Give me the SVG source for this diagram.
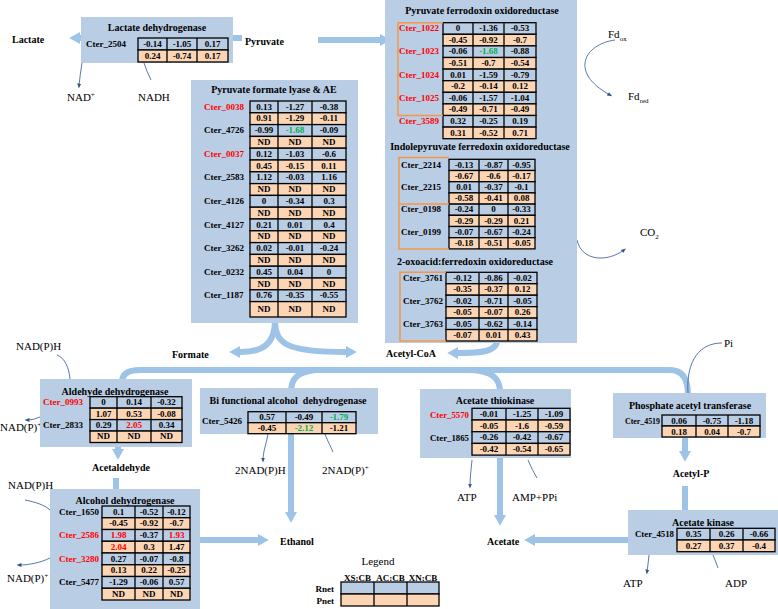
<svg xmlns="http://www.w3.org/2000/svg" width="778" height="609" viewBox="0 0 778 609">
<style>
.pn{fill:#b9cde5}
.cb{fill:#b9cde5;stroke:#000;stroke-width:1.3}
.cp{fill:#fcd5b5;stroke:#000;stroke-width:1.3}
.dv{fill:none;stroke:#000;stroke-width:1.3}
.br{fill:none;stroke:#f79646;stroke-width:1.5}
text{font-family:"Liberation Serif","Times New Roman",serif;fill:#000}
.v{font-weight:bold;font-size:9px;text-anchor:middle}
.g{font-weight:bold;font-size:9px}
.r{fill:#ff0000}
.gr{fill:#00b050}
.t{font-weight:bold;font-size:10px;text-anchor:middle}
.m{font-weight:bold;font-size:10px}
.s{font-size:11px}
.tk{fill:none;stroke:#9dc3e6;stroke-width:6}
.tn{fill:none;stroke:#2f5597;stroke-width:0.8}
</style>
<defs>
<marker id="ah" viewBox="0 0 10 10" refX="0" refY="5" markerWidth="2" markerHeight="2" orient="auto"><path d="M0,0 L9,5 L0,10 z" fill="#9dc3e6"/></marker>
<marker id="th" viewBox="0 0 10 10" refX="5" refY="5" markerWidth="5" markerHeight="5" markerUnits="userSpaceOnUse" orient="auto"><path d="M0,1 L10,5 L0,9 z" fill="#2f5597"/></marker>
</defs>

<g id="connectors">
<path class="tk" d="M242,38H80" marker-end="url(#ah)"/>
<path class="tk" d="M318,40H380" marker-end="url(#ah)"/>
<path class="tk" d="M275,320C275,345 262,352 240,352" marker-end="url(#ah)"/>
<path class="tk" d="M275,320C275,345 288,352 346,352" marker-end="url(#ah)"/>
<path class="tk" d="M497,340C497,352 480,353 458,353" marker-end="url(#ah)"/>
<path class="tk" d="M122,382Q122,370 140,370H670Q688,370 688,395"/>
<path class="tk" d="M315,370C298,372 291,378 291,392V512" marker-end="url(#ah)"/>
<path class="tk" d="M470,370C492,371 500,378 500,392V515" marker-end="url(#ah)"/>
<path class="tk" d="M200,540H258" marker-end="url(#ah)"/>
<path class="tk" d="M118,445V449" marker-end="url(#ah)"/>
<path class="tk" d="M116,478V492"/>
<path class="tk" d="M685,436V451" marker-end="url(#ah)"/>
<path class="tk" d="M685,486V512"/>
<path class="tk" d="M630,540H535" marker-end="url(#ah)"/>
<path class="tn" d="M82,63Q80,75 79,86" marker-end="url(#th)"/>
<path class="tn" d="M144,63Q147,72 151,80"/>
<path class="tn" d="M615,40C585,44 568,72 610,95" marker-end="url(#th)"/>
<path class="tn" d="M577,240C582,262 608,262 624,250" marker-end="url(#th)"/>
<path class="tn" d="M57,355C65,358 69,368 70,379"/>
<path class="tn" d="M40,417Q34,420 27,420" marker-end="url(#th)"/>
<path class="tn" d="M268,434C266,445 263,452 263,460" marker-end="url(#th)"/>
<path class="tn" d="M325,434C328,442 331,447 333,452"/>
<path class="tn" d="M472,460C471,470 470,478 470,486" marker-end="url(#th)"/>
<path class="tn" d="M528,460Q532,470 537,478"/>
<path class="tn" d="M25,500C35,502 45,505 50,510"/>
<path class="tn" d="M50,558C40,563 28,565 19,565" marker-end="url(#th)"/>
<path class="tn" d="M722,343C700,343 686,360 688,393"/>
<path class="tn" d="M649,555Q648,565 647,572" marker-end="url(#th)"/>
<path class="tn" d="M713,555Q716,562 718,568"/>
</g>

<g id="metabolites">
<text class="m" x="12" y="43">Lactate</text>
<text class="m" x="245" y="45">Pyruvate</text>
<text class="m" x="172" y="357.5">Formate</text>
<text class="m" x="386" y="357">Acetyl-CoA</text>
<text class="m" x="121" y="470.5" text-anchor="middle">Acetaldehyde</text>
<text class="m" x="280" y="544.5">Ethanol</text>
<text class="m" x="487" y="544.5">Acetate</text>
<text class="m" x="691" y="476.5" text-anchor="middle">Acetyl-P</text>
<text class="s" x="67" y="100.5">NAD<tspan font-size="7" dy="-4">+</tspan></text>
<text class="s" x="138" y="100.5">NADH</text>
<text class="s" x="608" y="38">Fd<tspan font-size="7" dy="3">ox</tspan></text>
<text class="s" x="628" y="100">Fd<tspan font-size="7" dy="3">red</tspan></text>
<text class="s" x="640" y="236">CO<tspan font-size="7" dy="3">2</tspan></text>
<text class="s" x="16" y="349.5">NAD(P)H</text>
<text class="s" x="0" y="431">NAD(P)<tspan font-size="7" dy="-4">+</tspan></text>
<text class="s" x="235" y="474">2NAD(P)H</text>
<text class="s" x="322" y="474">2NAD(P)<tspan font-size="7" dy="-4">+</tspan></text>
<text class="s" x="457" y="501">ATP</text>
<text class="s" x="512" y="501">AMP+PPi</text>
<text class="s" x="8" y="489">NAD(P)H</text>
<text class="s" x="7" y="582">NAD(P)<tspan font-size="7" dy="-4">+</tspan></text>
<text class="s" x="724" y="347">Pi</text>
<text class="s" x="623" y="587">ATP</text>
<text class="s" x="725" y="587">ADP</text>
</g>

<g id="ldh">
<rect class="pn" x="81" y="17" width="152" height="46"/>
<text class="t" x="157" y="31">Lactate dehydrogenase</text>
<text class="g" x="86" y="47">Cter_2504</text>
<rect class="cb" x="138" y="38" width="90" height="12"/>
<rect class="cp" x="138" y="50" width="90" height="12"/>
<path class="dv" d="M167,38V62M197,38V62"/>
<text class="v" y="47.2"><tspan x="152.5">-0.14</tspan><tspan x="182">-1.05</tspan><tspan x="212.5">0.17</tspan></text>
<text class="v" y="59.2"><tspan x="152.5">0.24</tspan><tspan x="182">-0.74</tspan><tspan x="212.5">0.17</tspan></text>
</g>

<g id="pfl">
<rect class="pn" x="191" y="80" width="167" height="243"/>
<text class="t" x="274" y="93">Pyruvate formate lyase &amp; AE</text>
<rect class="cb" x="250" y="101" width="96" height="11.8"/>
<rect class="cp" x="250" y="112.8" width="96" height="11.8"/>
<rect class="cb" x="250" y="124.6" width="96" height="11.8"/>
<rect class="cp" x="250" y="136.4" width="96" height="11.8"/>
<rect class="cb" x="250" y="148.2" width="96" height="11.8"/>
<rect class="cp" x="250" y="160" width="96" height="11.8"/>
<rect class="cb" x="250" y="171.8" width="96" height="11.8"/>
<rect class="cp" x="250" y="183.6" width="96" height="11.8"/>
<rect class="cb" x="250" y="195.4" width="96" height="11.8"/>
<rect class="cp" x="250" y="207.2" width="96" height="11.8"/>
<rect class="cb" x="250" y="219" width="96" height="11.8"/>
<rect class="cp" x="250" y="230.8" width="96" height="11.8"/>
<rect class="cb" x="250" y="242.6" width="96" height="11.8"/>
<rect class="cp" x="250" y="254.4" width="96" height="11.8"/>
<rect class="cb" x="250" y="266.2" width="96" height="11.8"/>
<rect class="cp" x="250" y="278" width="96" height="11.8"/>
<rect class="cb" x="250" y="289.8" width="96" height="11.8"/>
<rect class="cp" x="250" y="301.6" width="96" height="15.4"/>
<path class="dv" d="M278,101V317M312,101V317"/>
<text class="g r" x="204" y="109.6">Cter_0038</text>
<text class="g" x="204" y="133.2">Cter_4726</text>
<text class="g r" x="204" y="156.8">Cter_0037</text>
<text class="g" x="204" y="180.4">Cter_2583</text>
<text class="g" x="204" y="204">Cter_4126</text>
<text class="g" x="204" y="227.6">Cter_4127</text>
<text class="g" x="204" y="251.2">Cter_3262</text>
<text class="g" x="204" y="274.8">Cter_0232</text>
<text class="g" x="204" y="298.4">Cter_1187</text>
<text class="v" y="109.6"><tspan x="264">0.13</tspan><tspan x="295">-1.27</tspan><tspan x="329">-0.38</tspan></text>
<text class="v" y="121.4"><tspan x="264">0.91</tspan><tspan x="295">-1.29</tspan><tspan x="329">-0.11</tspan></text>
<text class="v" y="133.2"><tspan x="264">-0.99</tspan><tspan x="295" class="gr">-1.68</tspan><tspan x="329">-0.09</tspan></text>
<text class="v" y="145"><tspan x="264">ND</tspan><tspan x="295">ND</tspan><tspan x="329">ND</tspan></text>
<text class="v" y="156.8"><tspan x="264">0.12</tspan><tspan x="295">-1.03</tspan><tspan x="329">-0.6</tspan></text>
<text class="v" y="168.6"><tspan x="264">0.45</tspan><tspan x="295">-0.15</tspan><tspan x="329">0.11</tspan></text>
<text class="v" y="180.4"><tspan x="264">1.12</tspan><tspan x="295">-0.03</tspan><tspan x="329">1.16</tspan></text>
<text class="v" y="192.2"><tspan x="264">ND</tspan><tspan x="295">ND</tspan><tspan x="329">ND</tspan></text>
<text class="v" y="204"><tspan x="264">0</tspan><tspan x="295">-0.34</tspan><tspan x="329">0.3</tspan></text>
<text class="v" y="215.8"><tspan x="264">ND</tspan><tspan x="295">ND</tspan><tspan x="329">ND</tspan></text>
<text class="v" y="227.6"><tspan x="264">0.21</tspan><tspan x="295">0.01</tspan><tspan x="329">0.4</tspan></text>
<text class="v" y="239.4"><tspan x="264">ND</tspan><tspan x="295">ND</tspan><tspan x="329">ND</tspan></text>
<text class="v" y="251.2"><tspan x="264">0.02</tspan><tspan x="295">-0.01</tspan><tspan x="329">-0.24</tspan></text>
<text class="v" y="263"><tspan x="264">ND</tspan><tspan x="295">ND</tspan><tspan x="329">ND</tspan></text>
<text class="v" y="274.8"><tspan x="264">0.45</tspan><tspan x="295">0.04</tspan><tspan x="329">0</tspan></text>
<text class="v" y="286.6"><tspan x="264">ND</tspan><tspan x="295">ND</tspan><tspan x="329">ND</tspan></text>
<text class="v" y="298.4"><tspan x="264">0.76</tspan><tspan x="295">-0.35</tspan><tspan x="329">-0.55</tspan></text>
<text class="v" y="312.3"><tspan x="264">ND</tspan><tspan x="295">ND</tspan><tspan x="329">ND</tspan></text>
</g>

<g id="pfor">
<rect class="pn" x="385" y="0" width="192" height="343"/>
<text class="t" x="482" y="14">Pyruvate ferrodoxin oxidoreductase</text>
<rect class="cb" x="443" y="22.7" width="93" height="11.6"/>
<rect class="cp" x="443" y="34.3" width="93" height="11.6"/>
<rect class="cb" x="443" y="45.9" width="93" height="11.6"/>
<rect class="cp" x="443" y="57.5" width="93" height="11.6"/>
<rect class="cb" x="443" y="69.1" width="93" height="11.6"/>
<rect class="cp" x="443" y="80.7" width="93" height="11.6"/>
<rect class="cb" x="443" y="92.3" width="93" height="11.6"/>
<rect class="cp" x="443" y="103.9" width="93" height="11.6"/>
<rect class="cb" x="443" y="115.5" width="93" height="11.6"/>
<rect class="cp" x="443" y="127.1" width="93" height="11.6"/>
<path class="dv" d="M473,22.7V138.7M504,22.7V138.7"/>
<path class="br" d="M443,22.7H398V115.5H443"/>
<text class="g r" x="399" y="31.2">Cter_1022</text>
<text class="g r" x="399" y="54.4">Cter_1023</text>
<text class="g r" x="399" y="77.6">Cter_1024</text>
<text class="g r" x="399" y="100.8">Cter_1025</text>
<text class="g r" x="399" y="124">Cter_3589</text>
<text class="v" y="31.2"><tspan x="458">0</tspan><tspan x="488.5">-1.36</tspan><tspan x="520">-0.53</tspan></text>
<text class="v" y="42.8"><tspan x="458">-0.45</tspan><tspan x="488.5">-0.92</tspan><tspan x="520">-0.7</tspan></text>
<text class="v" y="54.4"><tspan x="458">-0.06</tspan><tspan x="488.5" class="gr">-1.68</tspan><tspan x="520">-0.88</tspan></text>
<text class="v" y="66"><tspan x="458">-0.51</tspan><tspan x="488.5">-0.7</tspan><tspan x="520">-0.54</tspan></text>
<text class="v" y="77.6"><tspan x="458">0.01</tspan><tspan x="488.5">-1.59</tspan><tspan x="520">-0.79</tspan></text>
<text class="v" y="89.2"><tspan x="458">-0.2</tspan><tspan x="488.5">-0.14</tspan><tspan x="520">0.12</tspan></text>
<text class="v" y="100.8"><tspan x="458">-0.06</tspan><tspan x="488.5">-1.57</tspan><tspan x="520">-1.04</tspan></text>
<text class="v" y="112.4"><tspan x="458">-0.49</tspan><tspan x="488.5">-0.71</tspan><tspan x="520">-0.49</tspan></text>
<text class="v" y="124"><tspan x="458">0.32</tspan><tspan x="488.5">-0.25</tspan><tspan x="520">0.19</tspan></text>
<text class="v" y="135.6"><tspan x="458">0.31</tspan><tspan x="488.5">-0.52</tspan><tspan x="520">0.71</tspan></text>

<text class="t" x="480" y="150">Indolepyruvate ferredoxin oxidoreductase</text>
<rect class="cb" x="449" y="159.3" width="86" height="11.2"/>
<rect class="cp" x="449" y="170.5" width="86" height="11.2"/>
<rect class="cb" x="449" y="181.7" width="86" height="11.2"/>
<rect class="cp" x="449" y="192.9" width="86" height="11.2"/>
<rect class="cb" x="449" y="204.1" width="86" height="11.2"/>
<rect class="cp" x="449" y="215.3" width="86" height="11.2"/>
<rect class="cb" x="449" y="226.5" width="86" height="11.2"/>
<rect class="cp" x="449" y="237.7" width="86" height="11.2"/>
<path class="dv" d="M479,159.3V248.9M508,159.3V248.9"/>
<path class="br" d="M449,157.5H399V249H449M399,204H449"/>
<text class="g" x="401" y="167.6">Cter_2214</text>
<text class="g" x="401" y="190">Cter_2215</text>
<text class="g" x="401" y="212.4">Cter_0198</text>
<text class="g" x="401" y="234.8">Cter_0199</text>
<text class="v" y="167.6"><tspan x="464">-0.13</tspan><tspan x="493.5">-0.87</tspan><tspan x="521.5">-0.95</tspan></text>
<text class="v" y="178.8"><tspan x="464">-0.67</tspan><tspan x="493.5">-0.6</tspan><tspan x="521.5">-0.17</tspan></text>
<text class="v" y="190"><tspan x="464">0.01</tspan><tspan x="493.5">-0.37</tspan><tspan x="521.5">-0.1</tspan></text>
<text class="v" y="201.2"><tspan x="464">-0.58</tspan><tspan x="493.5">-0.41</tspan><tspan x="521.5">0.08</tspan></text>
<text class="v" y="212.4"><tspan x="464">-0.24</tspan><tspan x="493.5">0</tspan><tspan x="521.5">-0.33</tspan></text>
<text class="v" y="223.6"><tspan x="464">-0.29</tspan><tspan x="493.5">-0.29</tspan><tspan x="521.5">0.21</tspan></text>
<text class="v" y="234.8"><tspan x="464">-0.07</tspan><tspan x="493.5">-0.67</tspan><tspan x="521.5">-0.24</tspan></text>
<text class="v" y="246"><tspan x="464">-0.18</tspan><tspan x="493.5">-0.51</tspan><tspan x="521.5">-0.05</tspan></text>

<text class="t" x="475" y="265">2-oxoacid:ferredoxin oxidoreductase</text>
<rect class="cb" x="446" y="272.3" width="91" height="11.45"/>
<rect class="cp" x="446" y="283.75" width="91" height="11.45"/>
<rect class="cb" x="446" y="295.2" width="91" height="11.45"/>
<rect class="cp" x="446" y="306.65" width="91" height="11.45"/>
<rect class="cb" x="446" y="318.1" width="91" height="11.45"/>
<rect class="cp" x="446" y="329.55" width="91" height="11.45"/>
<path class="dv" d="M479,272.3V341M508,272.3V341"/>
<path class="br" d="M446,272.3H400V341H446"/>
<text class="g" x="403" y="280.7">Cter_3761</text>
<text class="g" x="403" y="303.6">Cter_3762</text>
<text class="g" x="403" y="326.5">Cter_3763</text>
<text class="v" y="280.7"><tspan x="462.5">-0.12</tspan><tspan x="493.5">-0.86</tspan><tspan x="522.5">-0.02</tspan></text>
<text class="v" y="292.15"><tspan x="462.5">-0.35</tspan><tspan x="493.5">-0.37</tspan><tspan x="522.5">0.12</tspan></text>
<text class="v" y="303.6"><tspan x="462.5">-0.02</tspan><tspan x="493.5">-0.71</tspan><tspan x="522.5">-0.05</tspan></text>
<text class="v" y="315.05"><tspan x="462.5">-0.05</tspan><tspan x="493.5">-0.07</tspan><tspan x="522.5">0.26</tspan></text>
<text class="v" y="326.5"><tspan x="462.5">-0.05</tspan><tspan x="493.5">-0.62</tspan><tspan x="522.5">-0.14</tspan></text>
<text class="v" y="337.95"><tspan x="462.5">-0.07</tspan><tspan x="493.5">0.01</tspan><tspan x="522.5">0.43</tspan></text>
</g>

<g id="aldh">
<rect class="pn" x="40" y="379" width="152" height="68"/>
<text class="t" x="115" y="394.5">Aldehyde dehydrogenase</text>
<rect class="cb" x="90" y="396.7" width="92" height="11.45"/>
<rect class="cp" x="90" y="408.15" width="92" height="11.45"/>
<rect class="cb" x="90" y="419.6" width="92" height="11.45"/>
<rect class="cp" x="90" y="431.05" width="92" height="11.45"/>
<path class="dv" d="M117,396.7V442.5M151,396.7V442.5"/>
<text class="g r" x="43" y="405.1">Cter_0993</text>
<text class="g" x="43" y="428">Cter_2833</text>
<text class="v" y="405.1"><tspan x="103.5">0</tspan><tspan x="134">0.14</tspan><tspan x="166.5">-0.32</tspan></text>
<text class="v" y="416.55"><tspan x="103.5">1.07</tspan><tspan x="134">0.53</tspan><tspan x="166.5">-0.08</tspan></text>
<text class="v" y="428"><tspan x="103.5">0.29</tspan><tspan x="134" class="r">2.05</tspan><tspan x="166.5">0.34</tspan></text>
<text class="v" y="439.45"><tspan x="103.5">ND</tspan><tspan x="134">ND</tspan><tspan x="166.5">ND</tspan></text>
</g>

<g id="bifunctional">
<rect class="pn" x="200" y="388" width="178" height="46"/>
<text class="t" x="288" y="403.5" xml:space="preserve">Bi functional alcohol  dehydrogenase</text>
<rect class="cb" x="248" y="411.7" width="108" height="11"/>
<rect class="cp" x="248" y="422.7" width="108" height="11"/>
<path class="dv" d="M286,411.7V433.7M322,411.7V433.7"/>
<text class="g" x="202" y="424">Cter_5426</text>
<text class="v" y="420"><tspan x="267">0.57</tspan><tspan x="304">-0.49</tspan><tspan x="339" class="gr">-1.79</tspan></text>
<text class="v" y="431"><tspan x="267">-0.45</tspan><tspan x="304" class="gr">-2.12</tspan><tspan x="339">-1.21</tspan></text>
</g>

<g id="thiokinase">
<rect class="pn" x="420" y="389" width="151" height="69"/>
<text class="t" x="495" y="403.5">Acetate thiokinase</text>
<rect class="cb" x="472" y="408.3" width="98" height="11.7"/>
<rect class="cp" x="472" y="420" width="98" height="11.7"/>
<rect class="cb" x="472" y="431.7" width="98" height="11.7"/>
<rect class="cp" x="472" y="443.4" width="98" height="11.7"/>
<path class="dv" d="M506,408.3V455.1M538,408.3V455.1"/>
<text class="g r" x="430" y="418" textLength="39" lengthAdjust="spacingAndGlyphs">Cter_5570</text>
<text class="g" x="430" y="441" textLength="39" lengthAdjust="spacingAndGlyphs">Cter_1865</text>
<text class="v" y="416.9"><tspan x="489">-0.01</tspan><tspan x="522">-1.25</tspan><tspan x="554">-1.09</tspan></text>
<text class="v" y="428.6"><tspan x="489">-0.05</tspan><tspan x="522">-1.6</tspan><tspan x="554">-0.59</tspan></text>
<text class="v" y="440.3"><tspan x="489">-0.26</tspan><tspan x="522">-0.42</tspan><tspan x="554">-0.67</tspan></text>
<text class="v" y="452"><tspan x="489">-0.42</tspan><tspan x="522">-0.54</tspan><tspan x="554">-0.65</tspan></text>
</g>

<g id="pta">
<rect class="pn" x="613" y="393" width="153" height="45"/>
<text class="t" x="690" y="408.5">Phosphate acetyl transferase</text>
<rect class="cb" x="662" y="415" width="98" height="11"/>
<rect class="cp" x="662" y="426" width="98" height="11"/>
<path class="dv" d="M696,415V437M728,415V437"/>
<text class="g" x="625" y="424" textLength="35" lengthAdjust="spacingAndGlyphs">Cter_4519</text>
<text class="v" y="423.5"><tspan x="679">0.06</tspan><tspan x="712">-0.75</tspan><tspan x="744">-1.18</tspan></text>
<text class="v" y="434.5"><tspan x="679">0.18</tspan><tspan x="712">0.04</tspan><tspan x="744">-0.7</tspan></text>
</g>

<g id="ack">
<rect class="pn" x="628" y="510" width="150" height="45"/>
<text class="t" x="703" y="525.5">Acetate kinase</text>
<rect class="cb" x="677" y="528.3" width="98" height="11.7"/>
<rect class="cp" x="677" y="540" width="98" height="11.7"/>
<path class="dv" d="M710,528.3V551.7M743,528.3V551.7"/>
<text class="g" x="635" y="537" textLength="39" lengthAdjust="spacingAndGlyphs">Cter_4518</text>
<text class="v" y="537"><tspan x="693.5">0.35</tspan><tspan x="726.5">0.26</tspan><tspan x="759">-0.66</tspan></text>
<text class="v" y="548.7"><tspan x="693.5">0.27</tspan><tspan x="726.5">0.37</tspan><tspan x="759">-0.4</tspan></text>
</g>

<g id="adh">
<rect class="pn" x="50" y="489" width="150" height="120"/>
<text class="t" x="125" y="503.5">Alcohol dehydrogenase</text>
<rect class="cb" x="102" y="506" width="88" height="11.75"/>
<rect class="cp" x="102" y="517.75" width="88" height="11.75"/>
<rect class="cb" x="102" y="529.5" width="88" height="11.75"/>
<rect class="cp" x="102" y="541.25" width="88" height="11.75"/>
<rect class="cb" x="102" y="553" width="88" height="11.75"/>
<rect class="cp" x="102" y="564.75" width="88" height="11.75"/>
<rect class="cb" x="102" y="576.5" width="88" height="11.75"/>
<rect class="cp" x="102" y="588.25" width="88" height="11.75"/>
<path class="dv" d="M135,506V600M163,506V600"/>
<text class="g" x="59" y="514.6">Cter_1650</text>
<text class="g r" x="59" y="538.1">Cter_2586</text>
<text class="g r" x="59" y="561.6">Cter_3280</text>
<text class="g" x="59" y="585.1">Cter_5477</text>
<text class="v" y="514.6"><tspan x="118.5">0.1</tspan><tspan x="149">-0.52</tspan><tspan x="176.5">-0.12</tspan></text>
<text class="v" y="526.35"><tspan x="118.5">-0.45</tspan><tspan x="149">-0.92</tspan><tspan x="176.5">-0.7</tspan></text>
<text class="v" y="538.1"><tspan x="118.5" class="r">1.98</tspan><tspan x="149">-0.37</tspan><tspan x="176.5" class="r">1.93</tspan></text>
<text class="v" y="549.85"><tspan x="118.5" class="r">2.04</tspan><tspan x="149">0.3</tspan><tspan x="176.5">1.47</tspan></text>
<text class="v" y="561.6"><tspan x="118.5">0.27</tspan><tspan x="149">-0.07</tspan><tspan x="176.5">-0.8</tspan></text>
<text class="v" y="573.35"><tspan x="118.5">0.13</tspan><tspan x="149">0.22</tspan><tspan x="176.5">-0.25</tspan></text>
<text class="v" y="585.1"><tspan x="118.5">-1.29</tspan><tspan x="149">-0.06</tspan><tspan x="176.5">0.57</tspan></text>
<text class="v" y="596.85"><tspan x="118.5">ND</tspan><tspan x="149">ND</tspan><tspan x="176.5">ND</tspan></text>
</g>

<g id="legend">
<text x="378" y="565" font-size="11" text-anchor="middle">Legend</text>
<text class="v" y="580.5"><tspan x="357.5">XS:CB</tspan><tspan x="390.5">AC:CB</tspan><tspan x="423">XN:CB</tspan></text>
<rect class="cb" x="341" y="582" width="98" height="12"/>
<rect class="cp" x="341" y="594" width="98" height="12"/>
<path class="dv" d="M374,582V606M407,582V606"/>
<text class="g" x="334" y="591.5" text-anchor="end">Rnet</text>
<text class="g" x="334" y="603.5" text-anchor="end">Pnet</text>
</g>
</svg>
